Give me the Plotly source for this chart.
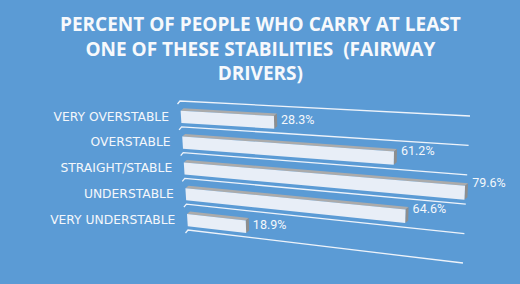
import plotly.graph_objects as go

# ---------------- data ----------------
categories = ["VERY OVERSTABLE", "OVERSTABLE", "STRAIGHT/STABLE", "UNDERSTABLE", "VERY UNDERSTABLE"]
values = [28.3, 61.2, 79.6, 64.6, 18.9]
value_labels = [f"{v:.1f}%" for v in values]
axis_max = 80.0
title_text = "PERCENT OF PEOPLE WHO CARRY AT LEAST<br>ONE OF THESE STABILITIES  (FAIRWAY<br>DRIVERS)"

# ---------------- style ----------------
BG = "#5B9BD5"
FRONT = "#E8EEF7"
TOPC = "#ABABAB"
ENDC = "#8E8E8E"
GRID = "#EEF3FA"
W, H = 520, 284

def depth(v):
    t = v / axis_max
    return 0.866 * t + 0.134 * t * t

# perspective floor: value axis (u) x category depth (w)
def proj(v, w):
    g = depth(v)
    lx, ly = 180 + 1.6 * w, 101 + 25.8 * w
    rx, ry = 470 - 1.4 * w, 116 + 29.4 * w
    return lx + (rx - lx) * g, ly + (ry - ly) * g

fig = go.Figure()

# gridlines (category separators)
n = len(categories)
for e in range(n + 1):
    lx, ly = proj(0, e)
    rx, ry = proj(axis_max, e)
    fig.add_trace(go.Scatter(x=[lx - 2.5, lx, rx], y=[ly + 3, ly, ry], mode="lines",
                             line=dict(color=GRID, width=1.3), hoverinfo="skip", showlegend=False))

A, B = 0.38, 0.85
sx, sy = 3.0, -2.5
for r, v in enumerate(values):
    p1 = proj(0, r + A)
    p2 = proj(v, r + A)
    p3 = proj(v, r + B)
    p4 = proj(0, r + B)
    top = [p1, p2, (p2[0] + sx, p2[1] + sy), (p1[0] + sx, p1[1] + sy), p1]
    end = [p2, (p2[0] + sx, p2[1] + sy), (p3[0] + sx, p3[1] + sy), p3, p2]
    front = [p1, p2, p3, p4, p1]
    for pts, col in ((top, TOPC), (end, ENDC), (front, FRONT)):
        fig.add_trace(go.Scatter(x=[p[0] for p in pts], y=[p[1] for p in pts], mode="lines",
                                 fill="toself", fillcolor=col, line=dict(width=0, color=col),
                                 hoverinfo="skip", showlegend=False))

# category labels
cx, cy = [], []
for r in range(n):
    x0, y0 = proj(0, r + 0.6)
    cx.append(x0 - 12)
    cy.append(y0 + 1)
fig.add_trace(go.Scatter(x=cx, y=cy, mode="text", text=categories, textposition="middle left",
                         textfont=dict(family="DejaVu Sans", size=12.3, color="#F4F7FB"),
                         hoverinfo="skip", showlegend=False))

# value labels
vx, vy = [], []
for r, v in enumerate(values):
    x0, y0 = proj(v, r + 0.6 - 0.36 * depth(v))
    vx.append(x0 + 7)
    vy.append(y0 + 2)
fig.add_trace(go.Scatter(x=vx, y=vy, mode="text", text=value_labels, textposition="middle right",
                         textfont=dict(family="Liberation Sans Narrow, Roboto, sans-serif", size=12.5, color="#F4F7FB"),
                         hoverinfo="skip", showlegend=False))

fig.add_annotation(text=title_text, xref="paper", yref="paper", x=0.5, y=1 - 9 / H,
                   xanchor="center", yanchor="top", showarrow=False, align="center",
                   font=dict(family="Open Sans", size=19, color="#F7F9FC", weight="bold"))

fig.update_layout(
    width=W, height=H,
    margin=dict(l=0, r=0, t=0, b=0),
    paper_bgcolor=BG, plot_bgcolor=BG,
    xaxis=dict(range=[0, W], visible=False, fixedrange=True),
    yaxis=dict(range=[H, 0], visible=False, fixedrange=True),
)

fig.write_html("out.html")
